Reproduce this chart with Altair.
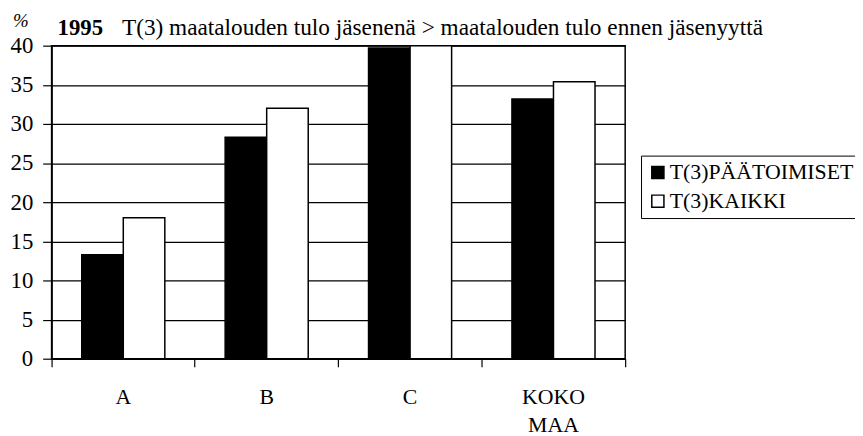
import altair as alt
import pandas as pd

categories = ["A", "B", "C", "KOKO MAA"]
series = ["T(3)PÄÄTOIMISET", "T(3)KAIKKI"]
paatoimiset = [13.3, 28.3, 39.7, 33.2]
kaikki = [18.0, 32.0, 40.0, 35.4]
y_ticks = [0, 5, 10, 15, 20, 25, 30, 35, 40]
title_year = "1995"
title_text = "T(3) maatalouden tulo jäsenenä > maatalouden tulo ennen jäsenyyttä"
y_unit = "%"

rows = []
for c, a, b in zip(categories, paatoimiset, kaikki):
    rows.append({"alue": c, "sarja": series[0], "arvo": a})
    rows.append({"alue": c, "sarja": series[1], "arvo": b})
df = pd.DataFrame(rows)

FONT = "Liberation Serif"

bars = alt.Chart(df).mark_bar(stroke="black", strokeWidth=1.5).encode(
    x=alt.X(
        "alue:N", sort=categories,
        scale=alt.Scale(paddingInner=0, paddingOuter=0),
        axis=alt.Axis(
            title=None, labelAngle=0, labelFont=FONT, labelFontSize=22,
            labelColor="black", labelPadding=20,
            labelExpr="split(datum.label, ' ')", labelLineHeight=28,
            bandPosition=1, tickExtra=True, tickSize=8, tickColor="black",
            tickWidth=1.2, domainColor="black", domainWidth=1.5, grid=False,
        ),
    ),
    xOffset=alt.XOffset(
        "sarja:N", sort=series,
        scale=alt.Scale(paddingInner=0, paddingOuter=0.726),
    ),
    y=alt.Y(
        "arvo:Q",
        scale=alt.Scale(domain=[0, 40], nice=False, clamp=True),
        axis=alt.Axis(
            values=y_ticks, title=None, labelFont=FONT, labelFontSize=23,
            labelColor="black", labelPadding=10, tickSize=9, tickColor="black",
            tickWidth=1.2, domainColor="black", domainWidth=1.5,
            grid=True, gridColor="black", gridWidth=1.2, gridOpacity=1,
        ),
    ),
    color=alt.Color(
        "sarja:N", sort=series,
        scale=alt.Scale(domain=series, range=["black", "white"]),
        legend=alt.Legend(
            title=None, orient="none", legendX=595, legendY=111,
            strokeColor="black", padding=6, symbolType="square",
            symbolSize=150, symbolStrokeColor="black", symbolStrokeWidth=1.5,
            labelFont=FONT, labelFontSize=22, labelColor="black",
            rowPadding=7, labelOffset=1, labelLimit=400,
        ),
    ),
)

unit_txt = alt.Chart(pd.DataFrame({"t": [y_unit]})).mark_text(
    font=FONT, fontSize=19, fontStyle="italic", align="left", baseline="alphabetic",
    color="black",
).encode(text="t:N", x=alt.value(-39), y=alt.value(-19))

year_txt = alt.Chart(pd.DataFrame({"t": [title_year]})).mark_text(
    font=FONT, fontSize=23, fontWeight="bold", align="left", baseline="alphabetic",
    color="black",
).encode(text="t:N", x=alt.value(6), y=alt.value(-11))

main_txt = alt.Chart(pd.DataFrame({"t": [title_text]})).mark_text(
    font=FONT, fontSize=23.5, align="left", baseline="alphabetic", color="black",
).encode(text="t:N", x=alt.value(71), y=alt.value(-11))

chart = alt.layer(bars, unit_txt, year_txt, main_txt).properties(
    width=579, height=316,
    autosize=alt.AutoSizeParams(type="none"),
    padding={"left": 44, "top": 36, "right": 232, "bottom": 76},
    background="white",
).configure_view(stroke="black", strokeWidth=1.5)

chart.save("out.html", embed_options={"renderer": "svg", "actions": False})
